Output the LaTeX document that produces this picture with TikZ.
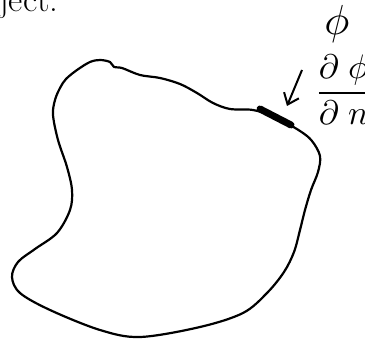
\documentclass[tikz,border=0pt]{standalone}
\usepackage{amsmath}
\usetikzlibrary{arrows.meta}
\begin{document}
\begin{tikzpicture}[x=1pt,y=-1pt,
  outline/.style={line width=2.2pt,line cap=round,line join=round},
  patch/.style={line width=7pt,line cap=round},
  pointer/.style={line width=2pt,-{Straight Barb[length=10pt,width=16pt,line width=2pt]}},
  lbl/.style={inner sep=0pt}]
\useasboundingbox (0,0) rectangle (365,342);
\node[lbl,anchor=base west] (ject) at (-1,12) {\fontsize{35}{40}\selectfont ject.};
\draw[outline] plot[smooth cycle,tension=0.55] coordinates {
 (100,60) (110,62) (114,67) (122,68) (140,75) (160,78) (180,84) (197,93)
 (213,103) (230,109) (253,110) (275,117) (300,131) (312,141) (320,156)
 (318,172) (311,190) (305,210) (300,230) (294,252) (284,272) (267,293)
 (243,313) (200,327) (140,337) (100,330) (50,310) (20,293) (12,277)
 (18,262) (35,249) (57,233) (70,210) (72,190) (67,167) (58,140)
 (53,115) (55,100) (60,88) (66,79) (77,70) (90,62)};
\coordinate (pa) at (260,109);
\coordinate (pb) at (291,125);
\draw[patch] (pa) -- (pb);
\coordinate (arrstart) at (302,70);
\coordinate (arrtip) at (287,106);
\draw[pointer] (arrstart) -- (arrtip);
\node[lbl,anchor=center,scale=4.2] (phi) at (337,24) {$\phi$};
\node[lbl,anchor=west,scale=3.4] (dphi) at (314,90) {$\dfrac{\partial\;\phi}{\partial\;n}$};
\end{tikzpicture}
\end{document}
